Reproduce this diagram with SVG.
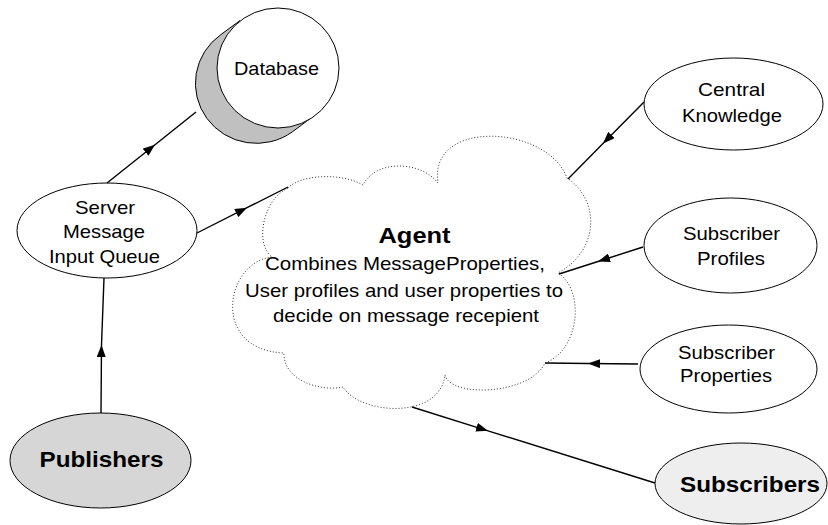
<svg xmlns="http://www.w3.org/2000/svg" width="828" height="525" viewBox="0 0 828 525">
<style>
.node{fill:#fff;stroke:#000;stroke-width:1}
.t{font-family:"Liberation Sans",Arial,sans-serif;font-size:19px;fill:#000;text-anchor:middle}
.b{font-family:"Liberation Sans",Arial,sans-serif;font-size:22px;font-weight:bold;fill:#000;text-anchor:middle}
.conn{fill:none;stroke:#000;stroke-width:1.4;marker-mid:url(#ah)}
.cloud{fill:#fff;stroke:#333;stroke-width:1;stroke-dasharray:1 2}
</style>
<defs>
<marker id="ah" markerUnits="userSpaceOnUse" markerWidth="13" markerHeight="9" refX="12" refY="4.5" orient="auto">
<path d="M0,0 L12,4.5 L0,9 Z" fill="#000"/>
</marker>
</defs>
<rect width="828" height="525" fill="#fff"/>

<g id="agent">
<path class="cloud" d="M288,188 C262,200 255,245 272,257 C225,262 210,350 284,353 C283,380 320,392 343,387 C360,415 440,420 445,375 C450,398 530,395 545,363 C580,350 585,290 558,273 C600,250 600,200 567,178 C548,125 428,118 438,183 C420,160 375,160 363,185 C340,172 300,175 288,188 Z"/>
<text class="b" x="414.5" y="243" textLength="72" lengthAdjust="spacingAndGlyphs">Agent</text>
<text class="t" x="405" y="270" textLength="280" lengthAdjust="spacingAndGlyphs">Combines MessageProperties,</text>
<text class="t" x="404" y="297" textLength="318" lengthAdjust="spacingAndGlyphs">User profiles and user properties to</text>
<text class="t" x="406" y="322" textLength="266" lengthAdjust="spacingAndGlyphs">decide on message recepient</text>
</g>

<g id="database">
<path d="M240,20.5 L221,34.5 A61,60 0 1 0 292.4,131.8 L315,115 Z" fill="#c0c0c0" stroke="#000" stroke-width="1"/>
<ellipse class="node" cx="278" cy="68" rx="61" ry="60"/>
<text class="t" x="276.5" y="75" textLength="85" lengthAdjust="spacingAndGlyphs">Database</text>
</g>

<g id="server">
<ellipse class="node" cx="107" cy="230.5" rx="90" ry="47.5"/>
<text class="t" x="105" y="214" textLength="60" lengthAdjust="spacingAndGlyphs">Server</text>
<text class="t" x="104" y="238" textLength="82" lengthAdjust="spacingAndGlyphs">Message</text>
<text class="t" x="104.5" y="263" textLength="111" lengthAdjust="spacingAndGlyphs">Input Queue</text>
</g>

<g id="central">
<ellipse class="node" cx="733.5" cy="104" rx="89.5" ry="46"/>
<text class="t" x="731.5" y="96" textLength="67" lengthAdjust="spacingAndGlyphs">Central</text>
<text class="t" x="732" y="122" textLength="100" lengthAdjust="spacingAndGlyphs">Knowledge</text>
</g>

<g id="profiles">
<ellipse class="node" cx="730.5" cy="245.5" rx="86.5" ry="47.5"/>
<text class="t" x="731.5" y="240" textLength="97" lengthAdjust="spacingAndGlyphs">Subscriber</text>
<text class="t" x="731" y="265" textLength="68" lengthAdjust="spacingAndGlyphs">Profiles</text>
</g>

<g id="properties">
<ellipse class="node" cx="728.5" cy="369" rx="88.5" ry="44"/>
<text class="t" x="726.5" y="359" textLength="97" lengthAdjust="spacingAndGlyphs">Subscriber</text>
<text class="t" x="726" y="382" textLength="92" lengthAdjust="spacingAndGlyphs">Properties</text>
</g>

<g id="publishers">
<ellipse cx="100.5" cy="460.5" rx="90.5" ry="47.5" fill="#d6d6d6" stroke="#000" stroke-width="1"/>
<text class="b" x="101.5" y="467" textLength="124" lengthAdjust="spacingAndGlyphs">Publishers</text>
</g>

<g id="subscribers">
<ellipse cx="741" cy="483.5" rx="86" ry="40.5" fill="#eeeeee" stroke="#000" stroke-width="1"/>
<text class="b" x="750" y="492" textLength="140" lengthAdjust="spacingAndGlyphs">Subscribers</text>
</g>

<g id="connectors">
<path class="conn" d="M101,413 L101.5,345 L104,278"/>
<path class="conn" d="M107,183 L155,144.7 L196,112"/>
<path class="conn" d="M197,233 L247,207.7 L288,187"/>
<path class="conn" d="M644,102 L603,143.5 L568,179"/>
<path class="conn" d="M643,247 L598,261.5 L559,274"/>
<path class="conn" d="M638,364 L588,363.5 L545,363"/>
<path class="conn" d="M412,407 L488,430.8 L655,483"/>
</g>
</svg>
